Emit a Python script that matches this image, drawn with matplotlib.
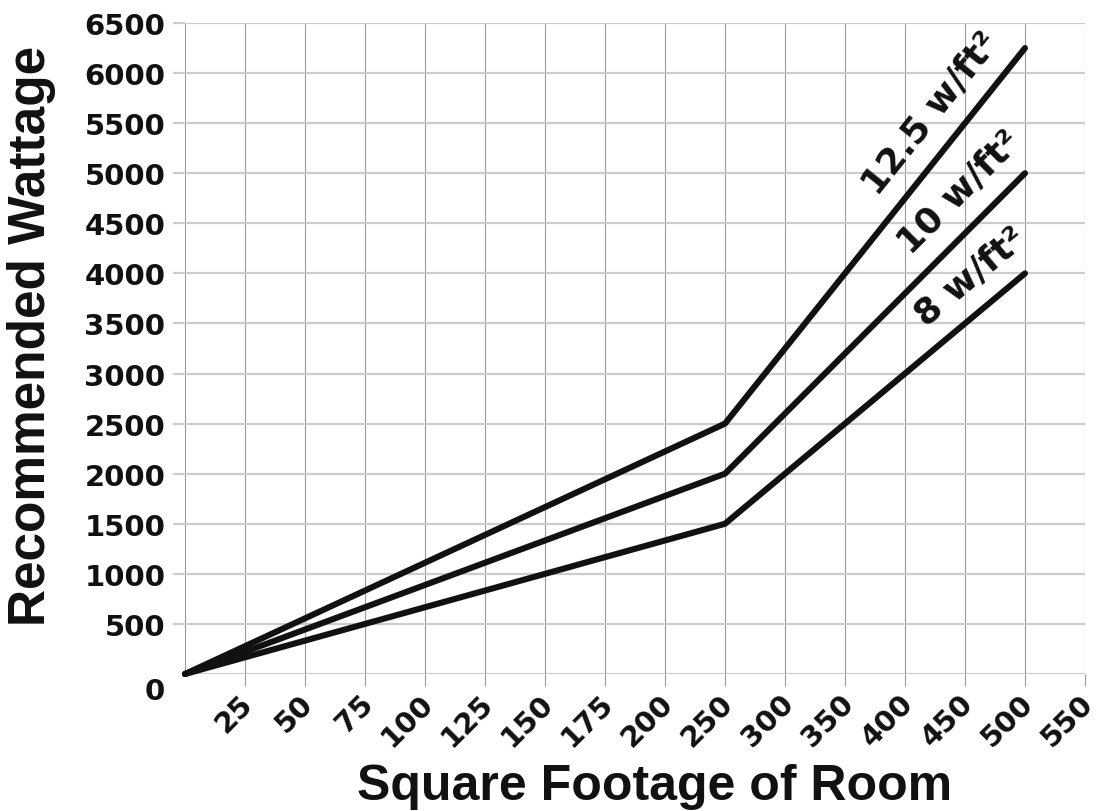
"""Recommended heater wattage vs. room square footage."""

import matplotlib.pyplot as plt
import numpy as np

# uneven x tick values, drawn evenly spaced
SQFT_TICKS = [25, 50, 75, 100, 125, 150, 175, 200, 250, 300, 350, 400, 450, 500, 550]
WATT_TICKS = [500, 1000, 1500, 2000, 2500, 3000, 3500, 4000, 4500, 5000, 5500, 6000, 6500]

SQFT = [0, 250, 500]
WATTS_125 = [0, 2500, 6250]
WATTS_10 = [0, 2000, 5000]
WATTS_8 = [0, 1500, 4000]
SERIES = [WATTS_125, WATTS_10, WATTS_8]
LABELS = ["12.5 w/ft²", "10 w/ft²", "8 w/ft²"]
LABEL_AT = [443, 465, 472]  # sqft where each inline label sits

W, H = 1098, 812
INK = "#111111"
TICK_FONT = dict(family="DejaVu Sans", weight="bold", size=21, color=INK)
TITLE_FONT = dict(family="Liberation Sans", weight="bold", color=INK)

_knots = np.array([0] + SQFT_TICKS, dtype=float)
_pos = np.arange(len(_knots), dtype=float)


def _fwd(x):
    return np.interp(x, _knots, _pos)


def _inv(p):
    return np.interp(p, _pos, _knots)


fig = plt.figure(figsize=(W / 100, H / 100), dpi=100)
ax = fig.add_axes([185 / W, 137 / H, 900 / W, 651 / H])
ax.set_xscale("function", functions=(_fwd, _inv))
ax.set_xlim(0, 550)
ax.set_ylim(0, 6500)
for s in ax.spines.values():
    s.set_visible(False)

ax.set_xticks(SQFT_TICKS)
ax.set_yticks(WATT_TICKS)
ax.grid(axis="x", color="#9a9a9a", linewidth=0.8, zorder=0)
ax.grid(axis="y", color="#cccccc", linewidth=1.6, zorder=0)
ax.axhline(0, color="#cccccc", linewidth=1.6, zorder=0)
ax.axvline(0, color="#9a9a9a", linewidth=0.8, zorder=0)
ax.tick_params(axis="x", length=8.6, width=0.8, color="#9a9a9a", labelbottom=False)
ax.tick_params(axis="y", length=8.6, width=1.6, color="#cccccc", pad=5.5)
ax.set_yticklabels([str(v) for v in WATT_TICKS], **TICK_FONT)

# x labels placed by hand so the 45 degree text hangs just left of each tick
for v in SQFT_TICKS:
    ax.annotate(str(v), xy=(v, 0), xycoords=("data", "axes fraction"),
                xytext=(-4.3, -10.5), textcoords="offset points", rotation=45,
                rotation_mode="anchor", ha="right", va="top", **TICK_FONT)
# the zero sits below its grid line in the original
ax.annotate("0", xy=(0, 0), xycoords=("axes fraction", "data"),
            xytext=(-14.5, -12), textcoords="offset points",
            ha="right", va="center", **TICK_FONT)

for ys in SERIES:
    ax.plot(SQFT, ys, color=INK, linewidth=4.4, solid_capstyle="round",
            clip_on=False, zorder=3)

# inline labels parallel to the upper segment, offset above the line
for ys, text, at in zip(SERIES, LABELS, LABEL_AT):
    p0 = ax.transData.transform((SQFT[1], ys[1]))
    p1 = ax.transData.transform((SQFT[2], ys[2]))
    ang = np.degrees(np.arctan2(p1[1] - p0[1], p1[0] - p0[0]))
    nx, ny = -np.sin(np.radians(ang)), np.cos(np.radians(ang))
    off = 24
    ax.annotate(text, xy=(at, np.interp(at, SQFT, ys)),
                xytext=(nx * off, ny * off), textcoords="offset points",
                rotation=ang, rotation_mode="anchor", ha="center", va="center",
                family="DejaVu Sans", weight="bold", size=26, color=INK)

fig.text(655 / W, 1 - 800 / H, "Square Footage of Room", ha="center",
         va="baseline", size=36, **TITLE_FONT)
fig.text(32 / W, 1 - 336 / H, "Recommended Wattage", rotation=90,
         ha="center", va="center", size=37, **TITLE_FONT)

fig.savefig("out.png", dpi=100)
